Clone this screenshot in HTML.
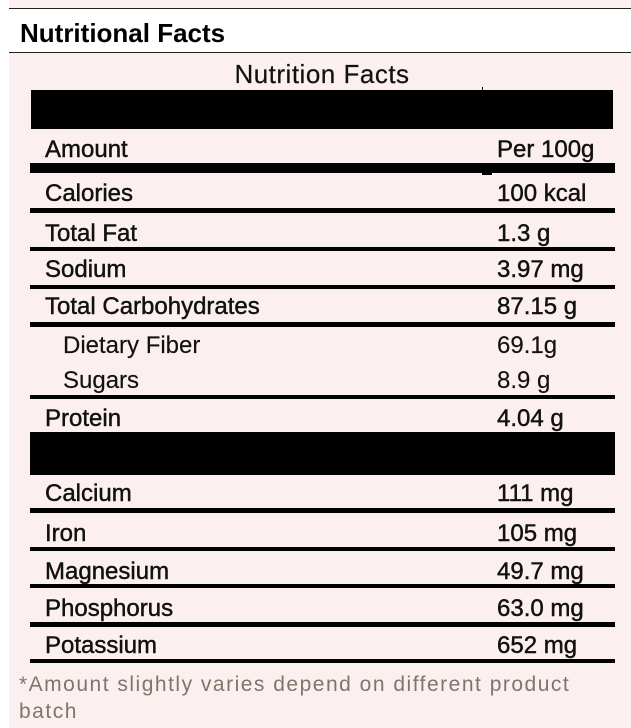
<!DOCTYPE html>
<html><head><meta charset="utf-8">
<style>
html,body{margin:0;padding:0;}
body{width:631px;height:728px;position:relative;overflow:hidden;background:#fff;font-family:"Liberation Sans",sans-serif;}
.pink{position:absolute;background:#fcefef;}
.hl{position:absolute;background:#000;}
.t{position:absolute;font-size:24px;line-height:24px;color:#111;white-space:nowrap;-webkit-text-stroke:0.45px #111;}
.l{left:45px;}
.v{left:497px;}
.sub{left:63px;-webkit-text-stroke:0.15px #111;}
.subv{-webkit-text-stroke:0.15px #111;}
.f{position:absolute;left:19px;font-size:21px;line-height:21px;letter-spacing:1.5px;color:#7d766b;white-space:nowrap;}
</style></head><body>
<div class="pink" style="left:9px;top:0;width:622px;height:8px;"></div>
<div style="position:absolute;left:9px;top:8px;width:622px;height:1px;background:#222;"></div>
<div style="position:absolute;left:9px;top:52px;width:622px;height:1px;background:#222;"></div>
<div class="pink" style="left:9px;top:53px;width:622px;height:675px;"></div>

<div style="position:absolute;left:20px;top:20px;font-size:26px;line-height:26px;font-weight:bold;color:#000;white-space:nowrap;">Nutritional Facts</div>

<div style="position:absolute;left:0;width:644px;text-align:center;top:61px;font-size:26px;line-height:26px;letter-spacing:0.5px;color:#111;white-space:nowrap;-webkit-text-stroke:0.2px #111;">Nutrition Facts</div>

<!-- bars & lines -->
<div class="hl" style="left:31px;top:90px;width:582px;height:39px;"></div>
<div class="hl" style="left:482px;top:87px;width:1px;height:3px;"></div>
<div class="hl" style="left:30px;top:163px;width:585px;height:10px;"></div>
<div class="hl" style="left:482px;top:173px;width:10px;height:2px;"></div>
<div class="hl" style="left:30px;top:208px;width:585px;height:5px;"></div>
<div class="hl" style="left:30px;top:247px;width:585px;height:4px;"></div>
<div class="hl" style="left:30px;top:285px;width:585px;height:4px;"></div>
<div class="hl" style="left:30px;top:322px;width:585px;height:5px;"></div>
<div class="hl" style="left:30px;top:395px;width:585px;height:4px;"></div>
<div class="hl" style="left:30px;top:432px;width:585px;height:43px;"></div>
<div class="hl" style="left:30px;top:508px;width:585px;height:5px;"></div>
<div class="hl" style="left:30px;top:547px;width:585px;height:4px;"></div>
<div class="hl" style="left:30px;top:584px;width:585px;height:4px;"></div>
<div class="hl" style="left:30px;top:622px;width:585px;height:5px;"></div>
<div class="hl" style="left:30px;top:659px;width:585px;height:4px;"></div>

<!-- rows -->
<div class="t l" style="top:138px;">Amount</div><div class="t v" style="top:138px;">Per 100g</div>
<div class="t l" style="top:182px;">Calories</div><div class="t v" style="top:182px;">100 kcal</div>
<div class="t l" style="top:222px;">Total Fat</div><div class="t v" style="top:222px;">1.3 g</div>
<div class="t l" style="top:258px;">Sodium</div><div class="t v" style="top:258px;">3.97 mg</div>
<div class="t l" style="top:295px;">Total Carbohydrates</div><div class="t v" style="top:295px;">87.15 g</div>
<div class="t sub" style="top:334px;">Dietary Fiber</div><div class="t v subv" style="top:334px;">69.1g</div>
<div class="t sub" style="top:369px;">Sugars</div><div class="t v subv" style="top:369px;">8.9 g</div>
<div class="t l" style="top:407px;">Protein</div><div class="t v" style="top:407px;">4.04 g</div>
<div class="t l" style="top:482px;">Calcium</div><div class="t v" style="top:482px;">111 mg</div>
<div class="t l" style="top:522px;">Iron</div><div class="t v" style="top:522px;">105 mg</div>
<div class="t l" style="top:560px;">Magnesium</div><div class="t v" style="top:560px;">49.7 mg</div>
<div class="t l" style="top:597px;">Phosphorus</div><div class="t v" style="top:597px;">63.0 mg</div>
<div class="t l" style="top:634px;">Potassium</div><div class="t v" style="top:634px;">652 mg</div>

<div class="f" style="top:674px;">*Amount slightly varies depend on different product</div>
<div class="f" style="top:701px;">batch</div>
</body></html>
